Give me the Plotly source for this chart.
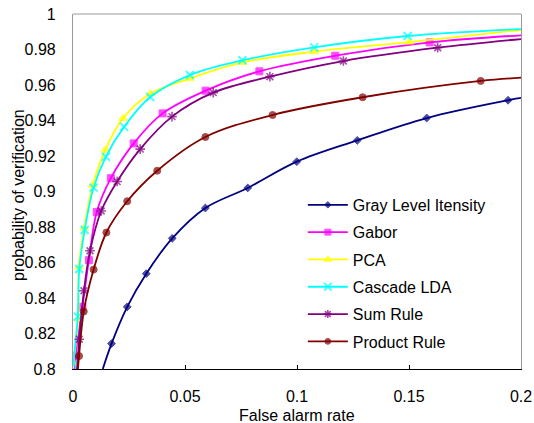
import plotly.graph_objects as go

# ---- data ----
gray_x = [0.0133, 0.0172, 0.0242, 0.0327, 0.0443, 0.0591, 0.0780, 0.0999, 0.1269, 0.1579, 0.1942, 0.2]
gray_y = [0.800, 0.8143, 0.835, 0.8537, 0.8736, 0.8907, 0.902, 0.9168, 0.9288, 0.9414, 0.9514, 0.9527]
gray_m = [0, 1, 1, 1, 1, 1, 1, 1, 1, 1, 1, 0]

gabor_x = [0.0007, 0.0011, 0.0042, 0.0071, 0.0106, 0.0169, 0.0271, 0.0400, 0.0592, 0.0832, 0.1171, 0.1592, 0.2]
gabor_y = [0.800, 0.8075, 0.835, 0.8613, 0.8884, 0.9075, 0.9271, 0.944, 0.9568, 0.9677, 0.9765, 0.984, 0.988]
gabor_m = [0, 1, 1, 1, 1, 1, 1, 1, 1, 1, 1, 1, 0]

pca_x = [0.0001, 0.0024, 0.0026, 0.0050, 0.0088, 0.0144, 0.0223, 0.0345, 0.0521, 0.0756, 0.1077, 0.1500, 0.2]
pca_y = [0.8036, 0.8285, 0.8575, 0.8794, 0.9036, 0.9235, 0.9412, 0.9551, 0.9636, 0.9727, 0.9788, 0.9842, 0.991]
pca_m = [1, 1, 1, 1, 1, 1, 1, 1, 1, 1, 1, 1, 0]

lda_x = [0.0001, 0.0021, 0.0028, 0.0052, 0.0092, 0.0147, 0.0228, 0.0345, 0.0522, 0.0756, 0.1077, 0.1494, 0.2]
lda_y = [0.8024, 0.8295, 0.8563, 0.8783, 0.9022, 0.9196, 0.9364, 0.9532, 0.9656, 0.9739, 0.9812, 0.9876, 0.9915]
lda_m = [1, 1, 1, 1, 1, 1, 1, 1, 1, 1, 1, 1, 0]

sum_x = [0.0018, 0.0028, 0.0049, 0.0076, 0.0126, 0.0197, 0.0300, 0.0442, 0.0626, 0.0879, 0.1207, 0.1628, 0.2]
sum_y = [0.800, 0.8168, 0.8441, 0.8666, 0.889, 0.9056, 0.9239, 0.9422, 0.9557, 0.9647, 0.9735, 0.981, 0.9859]
sum_m = [0, 1, 1, 1, 1, 1, 1, 1, 1, 1, 1, 1, 0]

prod_x = [0.0022, 0.0027, 0.0048, 0.0092, 0.0149, 0.0242, 0.0376, 0.0591, 0.0891, 0.1293, 0.1820, 0.2]
prod_y = [0.800, 0.8073, 0.8324, 0.856, 0.8769, 0.8945, 0.9117, 0.9307, 0.9431, 0.9531, 0.9623, 0.9641]
prod_m = [0, 1, 1, 1, 1, 1, 1, 1, 1, 1, 1, 0]

x_ticks = [0, 0.05, 0.1, 0.15, 0.2]
x_ticklabels = ["0", "0.05", "0.1", "0.15", "0.2"]
y_ticks = [0.8, 0.82, 0.84, 0.86, 0.88, 0.9, 0.92, 0.94, 0.96, 0.98, 1.0]
y_ticklabels = ["0.8", "0.82", "0.84", "0.86", "0.88", "0.9", "0.92", "0.94", "0.96", "0.98", "1"]

x_title = "False alarm rate"
y_title = "probability of verification"

series = [
    ("Gray Level Itensity", gray_x, gray_y, gray_m, "#000080", "diamond", 6, 1),
    ("Gabor", gabor_x, gabor_y, gabor_m, "#FF00FF", "square", 7, 1),
    ("PCA", pca_x, pca_y, pca_m, "#FFFF00", "triangle-up", 8, 1),
    ("Cascade LDA", lda_x, lda_y, lda_m, "#00FFFF", "x-thin-open", 8, 2),
    ("Sum Rule", sum_x, sum_y, sum_m, "#800080", "asterisk-open", 8, 1.6),
    ("Product Rule", prod_x, prod_y, prod_m, "#800000", "circle", 7, 1),
]

FONT = "Liberation Sans, Arial, sans-serif"

fig = go.Figure()
for name, xs, ys, ms, col, sym, sz, lw in series:
    fig.add_trace(go.Scatter(
        x=xs, y=ys, name=name, mode="lines+markers", legendgroup=name,
        line=dict(color=col, width=1.8, shape="spline", smoothing=1.0),
        marker=dict(symbol=sym, color=col, size=[sz * m for m in ms],
                    line=dict(color=col, width=lw)),
        cliponaxis=True,
    ))

fig.add_shape(type="line", xref="paper", yref="paper", x0=0, x1=1, y0=1, y1=1,
              line=dict(color="#999999", width=1.2))

fig.add_annotation(text=x_title, xref="paper", yref="paper", x=0.5, y=-0.131,
                   xanchor="center", yanchor="middle", showarrow=False,
                   font=dict(family=FONT, size=16, color="black"))
fig.add_annotation(text=y_title, xref="paper", yref="paper", x=-0.123, y=0.49,
                   xanchor="center", yanchor="middle", showarrow=False, textangle=-90,
                   font=dict(family=FONT, size=16, color="black"))

fig.update_layout(
    width=534, height=423,
    margin=dict(l=73, r=13, t=14, b=54),
    paper_bgcolor="white", plot_bgcolor="white",
    font=dict(family=FONT, size=16, color="black"),
    showlegend=True,
    legend=dict(x=0.513, y=0.51, xanchor="left", yanchor="top",
                bgcolor="rgba(0,0,0,0)", borderwidth=0,
                font=dict(family=FONT, size=16),
                tracegroupgap=3.5, itemwidth=40),
    xaxis=dict(range=[0, 0.2], tickvals=x_ticks, ticktext=x_ticklabels,
               ticks="inside", ticklen=4, tickcolor="black",
               showline=True, linecolor="black", linewidth=1.2,
               showgrid=False, zeroline=False, ticklabelstandoff=13,
               automargin=False),
    yaxis=dict(range=[0.8, 1.0], tickvals=y_ticks, ticktext=y_ticklabels,
               ticks="", showline=True, linecolor="#999999", linewidth=1.2,
               mirror=True, showgrid=False, zeroline=False, ticklabelstandoff=13,
               automargin=False),
)

fig.write_html("out.html", config={"displayModeBar": False},
               post_script="document.body.style.margin='0';document.body.style.overflow='hidden';")
